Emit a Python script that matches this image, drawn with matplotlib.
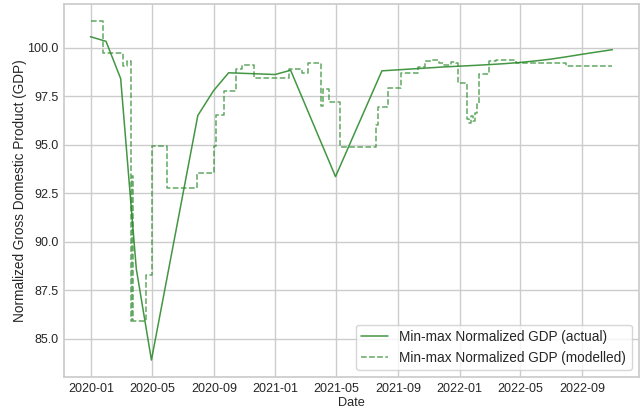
import matplotlib
matplotlib.use("Agg")
import matplotlib.pyplot as plt
import matplotlib.dates as mdates
import seaborn as sns
import pandas as pd

# Actual (month-end points)
actual_dates = ["2019-12-31", "2020-01-31", "2020-02-29", "2020-03-31", "2020-04-30",
                "2020-07-31", "2020-08-31", "2020-09-30", "2020-12-31", "2021-01-31",
                "2021-04-30", "2021-07-31", "2021-08-31", "2021-09-30", "2021-10-31",
                "2021-11-30", "2021-12-31", "2022-01-31", "2022-02-28", "2022-03-31",
                "2022-04-30", "2022-05-31", "2022-06-30", "2022-07-31", "2022-08-31",
                "2022-09-30", "2022-10-31"]
actual_vals = [100.56, 100.32, 98.40, 88.60, 83.90,
               96.50, 97.77, 98.70, 98.61, 98.83,
               93.35, 98.80, 98.85, 98.90, 98.95,
               99.00, 99.04, 99.08, 99.12, 99.17,
               99.23, 99.31, 99.40, 99.52, 99.65,
               99.77, 99.89]

# Modelled (step changes)
model_dates = ["2020-01-01", "2020-01-24", "2020-03-04", "2020-03-13", "2020-03-20",
               "2020-03-23", "2020-03-25", "2020-04-19", "2020-05-01", "2020-05-31",
               "2020-07-30", "2020-09-01", "2020-09-06", "2020-09-21", "2020-10-14",
               "2020-10-27", "2020-11-19", "2021-01-27", "2021-02-22", "2021-03-07",
               "2021-04-02", "2021-04-05", "2021-04-18", "2021-05-09", "2021-07-19",
               "2021-07-24", "2021-08-12", "2021-09-06", "2021-10-11", "2021-10-24",
               "2021-11-07", "2021-11-22", "2021-12-02", "2021-12-14", "2021-12-24",
               "2021-12-29", "2022-01-15", "2022-01-19", "2022-01-23", "2022-01-27",
               "2022-01-31", "2022-02-04", "2022-02-09", "2022-02-28", "2022-03-14",
               "2022-04-23", "2022-07-31", "2022-10-31"]
model_vals = [101.37, 99.72, 99.05, 99.33, 85.90,
              93.40, 85.90, 88.30, 94.93, 92.78,
              93.55, 94.93, 96.50, 97.75, 98.88,
              99.09, 98.44, 98.92, 98.71, 99.18,
              96.98, 97.89, 97.17, 94.89, 96.00,
              96.95, 97.94, 98.70, 99.00, 99.30,
              99.38, 99.20, 99.12, 99.25, 99.20,
              98.15, 96.30, 96.10, 96.45, 96.20,
              96.65, 97.10, 98.66, 99.31, 99.38,
              99.21, 99.05, 99.05]

sns.set_theme(style="whitegrid")
plt.rcParams['font.family'] = ['Liberation Sans', 'DejaVu Sans']

fig = plt.figure(figsize=(6.42, 4.13), dpi=100)
ax = fig.add_axes([64.3/642, 1-377/413, (638.5-64.3)/642, (377-4)/413])

ax.plot(pd.to_datetime(actual_dates), actual_vals, color='#2e8b2e', alpha=0.9,
        lw=1.1, label='Min-max Normalized GDP (actual)')
ax.plot(pd.to_datetime(model_dates), model_vals, color='#2e8b2e', alpha=0.75,
        lw=1.1, ls='--', drawstyle='steps-post', label='Min-max Normalized GDP (modelled)')

ax.xaxis.set_major_locator(mdates.MonthLocator(bymonth=[1, 5, 9]))
ax.xaxis.set_major_formatter(mdates.DateFormatter('%Y-%m'))
ax.tick_params(axis='both', labelsize=9.0, length=0, pad=4, colors='#262626')

ax.set_xlabel('Date', fontsize=9.2, labelpad=2, color='#262626')
ax.set_ylabel('Normalized Gross Domestic Product (GDP)', fontsize=9.8, color='#262626')
ax.yaxis.set_label_coords(-0.065, 0.5)

ax.legend(loc='lower right', fontsize=9.8, frameon=True, borderaxespad=0.5)

fig.savefig('out.png', dpi=100)
